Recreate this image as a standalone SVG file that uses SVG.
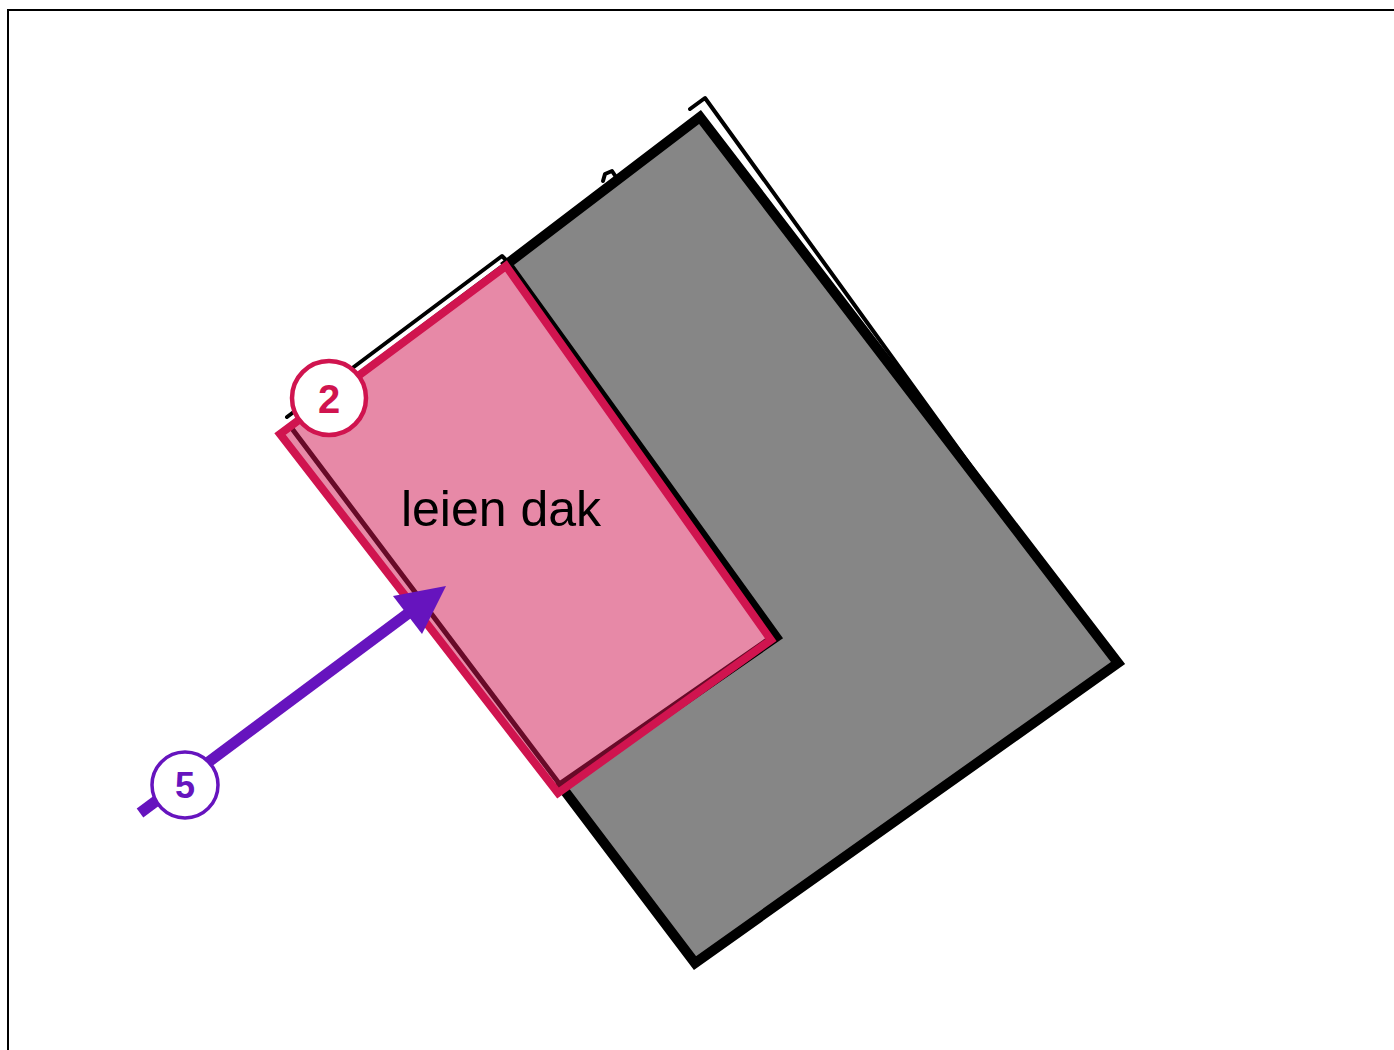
<svg xmlns="http://www.w3.org/2000/svg" width="1394" height="1050" viewBox="0 0 1394 1050">
<defs>
<style>
.frame{fill:none;stroke:#000;stroke-width:2}
.thin{fill:none;stroke:#000;stroke-width:4;stroke-linejoin:round;stroke-linecap:round}
.roof{fill:#868686;stroke:#000;stroke-width:10;stroke-linejoin:miter}
.under{fill:none;stroke:#000;stroke-width:5}
.slate{fill:rgba(208,20,80,0.5);stroke:#D0144F;stroke-width:8}
.label{font-family:"Liberation Sans",Arial,sans-serif;font-size:50px;fill:#000}
.badge2 circle{fill:#fff;stroke:#D0144F;stroke-width:4.5}
.badge2 text{font-family:"Liberation Sans",Arial,sans-serif;font-weight:bold;font-size:40px;fill:#D0144F;text-anchor:middle}
.badge5 circle{fill:#fff;stroke:#6614BE;stroke-width:3.5}
.badge5 text{font-family:"Liberation Sans",Arial,sans-serif;font-weight:bold;font-size:36px;fill:#6614BE;text-anchor:middle}
</style>
</defs>
<rect class="frame" x="8" y="10" width="1400" height="1060"/>
<g id="footprint">
<polyline class="thin" points="287,417 502,256 508,262"/>
<polyline class="thin" points="690,109 705,98 988,490"/>
<polyline class="thin" points="603,181 605,174 612,171 616,177"/>
</g>
<g id="main-roof">
<polygon class="roof" points="507,264 700,117 1118,663 695,963 561,786 776,637"/>
<polyline class="under" points="561,786 290,426 506,264"/>
</g>
<g id="leien-dak">
<polygon class="slate" points="506,266 771,640 558,793 280,434"/>
<text class="label" x="501" y="526" text-anchor="middle">leien dak</text>
</g>
<g id="connectors">
<line x1="140" y1="813" x2="410" y2="612" stroke="#6614BE" stroke-width="11"/>
<polygon points="446,586 393,596 422,634" fill="#6614BE"/>
</g>
<g id="badge-2" class="badge2">
<circle cx="329" cy="398" r="37"/>
<text x="329" y="413">2</text>
</g>
<g id="badge-5" class="badge5">
<circle cx="185" cy="785" r="33"/>
<text x="185" y="798">5</text>
</g>
</svg>
